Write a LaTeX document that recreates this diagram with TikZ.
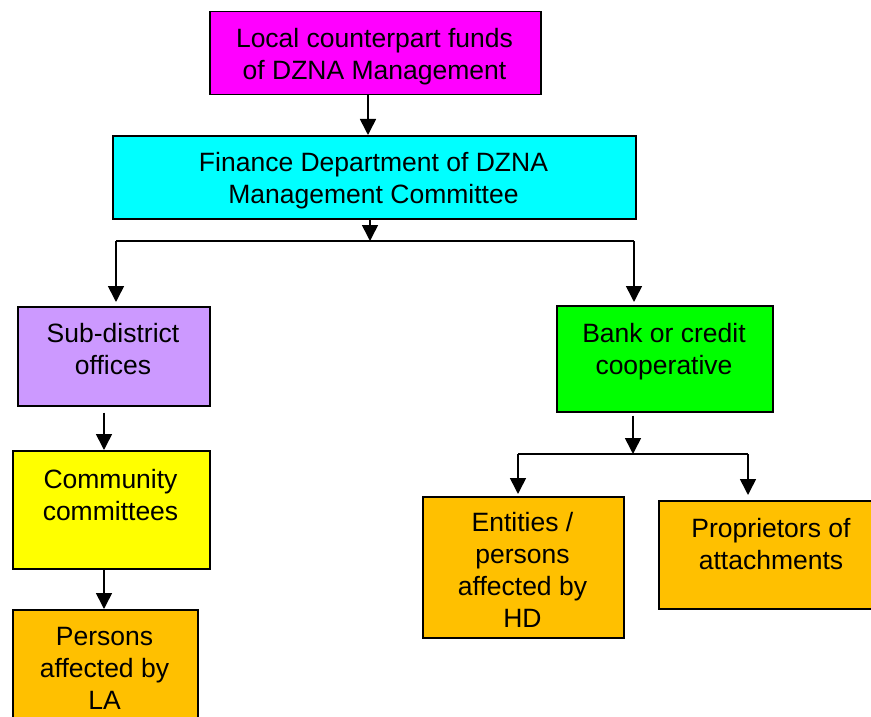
\documentclass[tikz,border=0pt]{standalone}
\usepackage{fontspec}
\setmainfont{Liberation Sans}
\usetikzlibrary{arrows.meta}
\definecolor{cmag}{HTML}{FF00FF}
\definecolor{ccyan}{HTML}{00FFFF}
\definecolor{cpurp}{HTML}{CC99FF}
\definecolor{cgreen}{HTML}{00FF00}
\definecolor{cyel}{HTML}{FFFF00}
\definecolor{corange}{HTML}{FFC000}
\tikzset{
  box/.style={draw=black, line width=1.5pt, inner sep=0pt, anchor=north west},
  txt/.style={anchor=north, align=center, inner sep=0pt, font=\fontsize{26.5}{32}\selectfont},
  conn/.style={line width=1.6pt},
  arr/.style={line width=1.6pt, -{Triangle[length=16pt,width=16pt]}}
}
\begin{document}
\begin{tikzpicture}[x=1pt,y=-1pt]
\useasboundingbox (0,0) rectangle (871,717);
\clip (0,0) rectangle (871,717);
% boxes
\node[box, fill=cmag, minimum width=331pt, minimum height=83pt] (mag) at (209,11) {};
\node[box, fill=ccyan, minimum width=523pt, minimum height=83pt] (cyan) at (112,135) {};
\node[box, fill=cpurp, minimum width=192pt, minimum height=99pt] (purp) at (17,306) {};
\node[box, fill=cgreen, minimum width=216pt, minimum height=106pt] (green) at (556,305) {};
\node[box, fill=cyel, minimum width=197pt, minimum height=118pt] (yel) at (12,450) {};
\node[box, fill=corange, minimum width=185pt, minimum height=130pt] (la) at (12,609) {};
\node[box, fill=corange, minimum width=201pt, minimum height=141pt] (hd) at (422,496) {};
\node[box, fill=corange, minimum width=226pt, minimum height=108pt] (prop) at (658,500) {};
% texts
\node[txt] (magt) at (374.5,28) {Local counterpart funds\\of DZNA Management};
\node[txt] (cyant) at (373.5,152) {Finance Department of DZNA\\Management Committee};
\node[txt] (purpt) at (113,323) {Sub-district\\offices};
\node[txt] (greent) at (664,323) {Bank or credit\\cooperative};
\node[txt] (yelt) at (110.5,469) {Community\\committees};
\node[txt] (lat) at (104.5,627) {Persons\\affected by\\LA};
\node[txt] (hdt) at (522.5,512) {Entities /\\persons\\affected by\\HD};
\node[txt] (propt) at (771,518) {Proprietors of\\attachments};
% junctions
\coordinate (j1) at (370,241);
\coordinate (jl) at (116,241);
\coordinate (jr) at (634,241);
\coordinate (j2) at (633,454);
\coordinate (j2l) at (518,454);
\coordinate (j2r) at (748,454);
\coordinate (m1) at (368,0);
\coordinate (l1) at (104,0);
% connectors
\draw[arr] (m1 |- mag.south) -- (m1 |- cyan.north);
\draw[arr] (j1 |- cyan.south) -- (j1);
\draw[conn] (jl) -- (jr);
\draw[arr] (jl) -- ([yshift=4pt]jl |- purp.north);
\draw[arr] (jr) -- ([yshift=3pt]jr |- green.north);
\draw[arr] ([yshift=-6pt]l1 |- purp.south) -- (l1 |- yel.north);
\draw[arr] (l1 |- yel.south) -- (l1 |- la.north);
\draw[arr] ([yshift=-3pt]j2 |- green.south) -- (j2);
\draw[conn] (j2l) -- (j2r);
\draw[arr] (j2l) -- ([yshift=2pt]j2l |- hd.north);
\draw[arr] (j2r) -- ([yshift=5pt]j2r |- prop.north);
\end{tikzpicture}
\end{document}
